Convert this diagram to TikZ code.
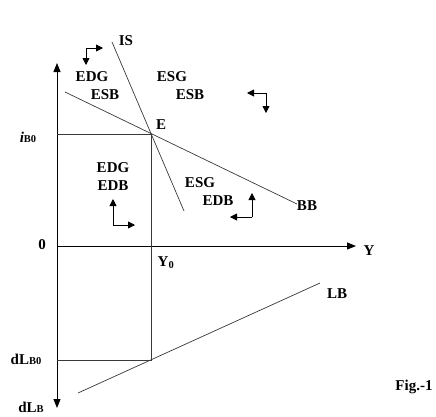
\documentclass[tikz,border=0pt]{standalone}
\usepackage{fontspec}
\setmainfont{Liberation Serif}
\usetikzlibrary{arrows.meta}
\definecolor{curve}{HTML}{3A3A3A}
\tikzset{
  lbl/.style={font=\fontsize{15}{17}\selectfont\bfseries, inner sep=0pt},
  axis/.style={line width=0.9pt},
  sched/.style={draw=curve, line width=0.7pt},
  turn/.style={line width=0.8pt, -{Triangle[length=7pt,width=7pt]}},
}
\newcommand{\subsz}{\fontsize{10.5}{12}\selectfont}

\begin{document}
\begin{tikzpicture}[x=1pt, y=-1pt]
  \useasboundingbox[fill=white] (0,0) rectangle (436,416);

  % axes
  \coordinate (O)    at (57,246);
  \coordinate (top)  at (57,63);
  \coordinate (bot)  at (57,408);
  \coordinate (yend) at (356,246);
  \draw[axis, {Triangle[length=9pt,width=7pt]}-{Triangle[length=9pt,width=7pt]}] (bot) -- (top);
  \draw[axis, -{Triangle[length=9pt,width=7pt]}] (O) -- (yend);

  % schedules
  \coordinate (E)     at (151,134);
  \coordinate (IStop) at (112,42);
  \coordinate (ISbot) at (184,211);
  \coordinate (BBl)   at (65,92);
  \coordinate (BBr)   at (297,204);
  \coordinate (LBl)   at (78,393);
  \coordinate (LBr)   at (320,283);
  \draw[sched] (IStop) -- (ISbot);
  \draw[sched] (BBl) -- (BBr);
  \draw[sched] (LBl) -- (LBr);

  % guide lines
  \coordinate (iB)  at (57,134);
  \coordinate (dE)  at (151,360);
  \coordinate (dLB) at (57,360);
  \draw[sched] (iB) -- (E) -- (dE) -- (dLB);

  % region labels
  \foreach \px/\py/\t [count=\i] in
    {92/77/EDG, 105/95/ESB, 172/77/ESG, 190/95/ESB,
     113/168/EDG, 113/186/EDB, 200/183/ESG, 218/201/EDB}
    \node[lbl] (reg\i) at (\px,\py) {\t};

  % adjustment arrows
  \foreach \cx/\cy/\ax/\ay/\bx/\by [count=\i] in
    {86/48/103/48/86/65, 266/93/247/93/266/113,
     252/217/252/193/230/217, 113/225/113/199/135/225}
  {
    \coordinate (t\i)  at (\cx,\cy);
    \coordinate (t\i a) at (\ax,\ay);
    \coordinate (t\i b) at (\bx,\by);
    \draw[turn] (t\i) -- (t\i a);
    \draw[turn] (t\i) -- (t\i b);
  }

  % curve and axis labels
  \node[lbl] (IS)  at (126,41)  {IS};
  \node[lbl] (Elb) at (161,125) {E};
  \node[lbl] (BB)  at (307,206) {BB};
  \node[lbl] (LB)  at (337,294) {LB};
  \node[lbl] (Y)   at (369,251) {Y};
  \node[lbl] (Y0)  at (166,263) {Y\textsubscript{0}};
  \node[lbl] (zero) at (42,245) {0};
  \node[lbl] (iB0) at (28,137)  {\textit{i}{\subsz B0}};
  \node[lbl] (dLB0) at (26,359) {dL{\subsz B0}};
  \node[lbl] (dLBn) at (31,407) {dL{\subsz B}};
  \node[lbl] (fig) at (414,387) {Fig.-1};
\end{tikzpicture}
\end{document}
